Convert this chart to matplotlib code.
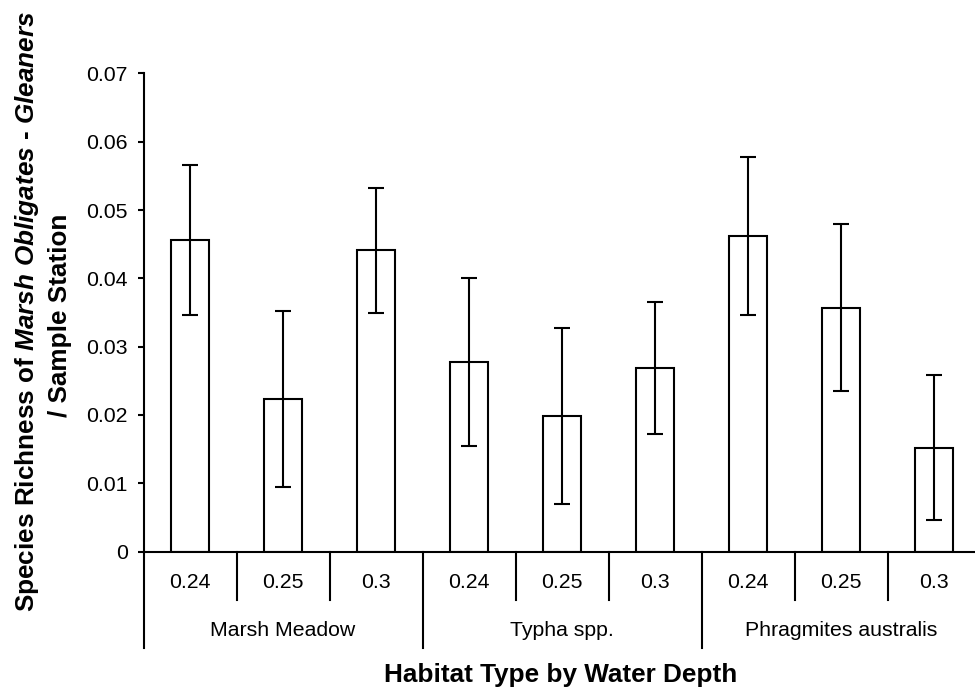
import numpy as np
import matplotlib
matplotlib.use("Agg")
import matplotlib.pyplot as plt
from matplotlib.ticker import FuncFormatter

plt.rcParams['font.family'] = ['Liberation Sans', 'DejaVu Sans']
plt.rcParams['mathtext.fontset'] = 'custom'
plt.rcParams['mathtext.rm'] = 'Liberation Sans:bold'
plt.rcParams['mathtext.it'] = 'Liberation Sans:italic:bold'

# habitat groups and water depth within each group
habitats = ['Marsh Meadow', 'Typha spp.', 'Phragmites australis']
depths = ['0.24', '0.25', '0.3']

# mean species richness per sample station and its error
means = [0.0456, 0.0223, 0.0441,
         0.0277, 0.0198, 0.0269,
         0.0462, 0.0357, 0.0152]
errors = [0.0110, 0.0129, 0.0091,
          0.0123, 0.0129, 0.0097,
          0.0116, 0.0122, 0.0106]

W, H = 975, 691
fig = plt.figure(figsize=(W / 100, H / 100), dpi=100)

# axes box in pixels: left edge, zero line, top tick, category width
x0, y0, ytop, cw = 143.5, 551.5, 73.5, 93.0
n = len(habitats) * len(depths)
ax = fig.add_axes([x0 / W, (H - y0) / H, n * cw / W, (y0 - ytop) / H])
ax_h = y0 - ytop

def frac(py):
    # pixel row below the axes -> axes fraction
    return (y0 - py) / ax_h

x = np.arange(n)
ax.bar(x, means, width=0.41, color='white', edgecolor='black', linewidth=1.5, zorder=2)
ax.errorbar(x, means, yerr=errors, fmt='none', ecolor='black', elinewidth=1.5,
            capsize=5.6, capthick=1.5, zorder=3)

ax.set_xlim(-0.5, n - 0.5)
ax.set_ylim(0, 0.07)
ax.set_yticks(np.arange(0, 0.071, 0.01))
ax.yaxis.set_major_formatter(FuncFormatter(lambda v, p: f"{v:.2f}".rstrip('0').rstrip('.') if v else '0'))
ax.tick_params(axis='y', direction='out', length=4.3, width=1.5, pad=7.2, labelsize=15.3)
ax.set_xticks([])
for s in ['top', 'right']:
    ax.spines[s].set_visible(False)
for s in ['left', 'bottom']:
    ax.spines[s].set_linewidth(1.5)

tr = ax.get_xaxis_transform()

# depth labels and the short dividers between them
for i in range(n):
    ax.text(x[i], frac(583), depths[i % len(depths)], ha='center', va='center',
            fontsize=15.3, transform=tr)
for i in range(n + 1):
    if i % len(depths) == 0:
        bottom = frac(648)
    else:
        bottom = frac(600)
    ax.plot([i - 0.5, i - 0.5], [0, bottom], color='black', lw=1.5,
            transform=tr, clip_on=False)

# habitat group labels
for g, name in enumerate(habitats):
    cx = g * len(depths) + (len(depths) - 1) / 2
    ax.text(cx, frac(631), name, ha='center', va='center', fontsize=15.3, transform=tr)

fig.text(561 / W, 1 - 675 / H, 'Habitat Type by Water Depth', ha='center', va='center',
         fontsize=18.8, fontweight='bold')

fig.text(27 / W, 1 - 311 / H,
         r'Species Richness of $\mathit{Marsh\ Obligates}$ - $\mathit{Gleaners}$',
         rotation=90, ha='center', va='center', fontsize=18.8, fontweight='bold')
fig.text(60 / W, 1 - 315 / H, '/ Sample Station', rotation=90, ha='center', va='center',
         fontsize=18.8, fontweight='bold')

fig.savefig('out.png', dpi=100)
